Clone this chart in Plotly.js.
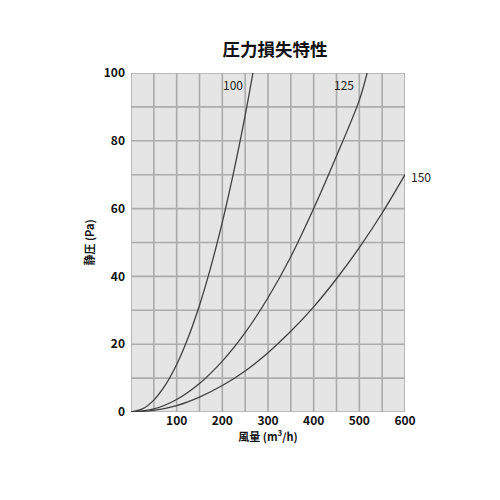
<!DOCTYPE html>
<html>
<head>
<meta charset="utf-8">
<script src="https://cdn.plot.ly/plotly-3.0.1.min.js"></script>
<style>
  body { margin: 0; background: #fff; }
  #chart { width: 500px; height: 500px; }
</style>
</head>
<body>
<div id="chart"></div>
<script>
// 風量 (m³/h) と 静圧 (Pa) — グラフから読み取った値
const x100 = [0, 25, 50, 75, 100, 125, 150, 175, 200, 225, 250, 267];
const y100 = [0, 0.9, 3.5, 7.9, 14, 21.9, 31.5, 42.9, 56, 70.9, 87.5, 100];

const x125 = [0, 50, 100, 150, 200, 250, 300, 350, 400, 450, 500, 517];
const y125 = [0, 0.9, 3.7, 8.4, 15, 23.4, 33.7, 45.8, 60, 75.5, 92, 100];

const x150 = [0, 50, 100, 150, 200, 250, 300, 350, 400, 450, 500, 550, 600];
const y150 = [0, 0.5, 1.9, 4.4, 7.8, 12.1, 17.5, 23.8, 31, 39.3, 48.5, 58.7, 70];

const etiquetas = ["100", "125", "150"];
const etiquetaX = [223, 466, 635];
const etiquetaY = [96.5, 96.5, 69.5];

const xTicks = [100, 200, 300, 400, 500, 600];
const yTicks = [0, 20, 40, 60, 80, 100];

const fuente = "'Noto Sans CJK JP', 'Noto Sans', sans-serif";
const colorLinea = "#404040";

function curva(xs, ys) {
  return {
    x: xs, y: ys,
    type: "scatter", mode: "lines",
    line: { color: colorLinea, width: 1.3, shape: "spline" },
    hoverinfo: "skip",
    showlegend: false
  };
}

const data = [curva(x100, y100), curva(x125, y125), curva(x150, y150)];

// las etiquetas fuera del rango se ubican en coordenadas de papel
const anotaciones = etiquetas.map((t, i) => ({
  x: etiquetaX[i] / 600, y: etiquetaY[i] / 100,
  xref: "paper", yref: "paper",
  xanchor: "center", yanchor: "middle",
  text: t, showarrow: false,
  font: { family: fuente, size: 12, color: "#222" }
}));

const layout = {
  width: 500, height: 500,
  margin: { l: 131, r: 95, t: 73, b: 88 },
  paper_bgcolor: "#ffffff",
  plot_bgcolor: "#e5e5e5",
  title: {
    text: "<b>圧力損失特性</b>",
    font: { family: fuente, size: 17.5, color: "#111" },
    x: 0.55, xanchor: "center", y: 0.9, yanchor: "middle"
  },
  xaxis: {
    range: [0, 600],
    tickvals: xTicks,
    ticktext: xTicks.map(String),
    showgrid: false,
    zeroline: false,
    showline: false,
    ticks: "",
    tickfont: { family: fuente, size: 12, color: "#111", weight: 600 },
    title: { text: "<b>風量 (m³/h)</b>", font: { family: fuente, size: 11, color: "#111" }, standoff: 4 },
    fixedrange: true
  },
  yaxis: {
    range: [0, 100],
    tickvals: yTicks,
    ticktext: yTicks.map(String),
    showgrid: false,
    zeroline: false,
    showline: false,
    ticks: "",
    ticklabelstandoff: 5,
    tickfont: { family: fuente, size: 12, color: "#111", weight: 600 },
    title: { text: "<b>静圧 (Pa)</b>", font: { family: fuente, size: 11, color: "#111" }, standoff: 6 },
    fixedrange: true
  },
  shapes: [],
  annotations: anotaciones
};

// grilla: cada 50 m³/h y cada 10 Pa
for (let gx = 0; gx <= 600; gx += 50) {
  layout.shapes.push({ type: "line", xref: "x", yref: "y", x0: gx, x1: gx, y0: 0, y1: 100,
    line: { color: "#ababab", width: 1.6 }, layer: "below" });
}
for (let gy = 0; gy <= 100; gy += 10) {
  layout.shapes.push({ type: "line", xref: "x", yref: "y", x0: 0, x1: 600, y0: gy, y1: gy,
    line: { color: "#ababab", width: 1.6 }, layer: "below" });
}

Plotly.newPlot("chart", data, layout, { displayModeBar: false, staticPlot: true });
</script>
</body>
</html>
